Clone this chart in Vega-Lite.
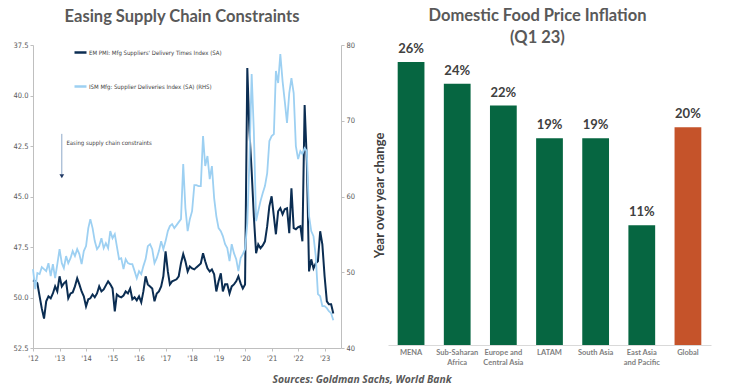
{
  "$schema": "https://vega.github.io/schema/vega-lite/v6.json",
  "background": "white",
  "padding": {"left": 12, "top": 8, "right": 10, "bottom": 0},
  "config": {"view": {"stroke": null}, "font": "Lato"},
  "title": {"text": "Sources: Goldman Sachs, World Bank", "orient": "bottom", "anchor": "middle", "fontSize": 10.3, "fontStyle": "italic", "fontWeight": "bold", "color": "#595959", "offset": 9, "font": "Open Sans"},
  "spacing": 18,
  "resolve": {"scale": {"color": "independent"}, "legend": {"color": "independent"}},
  "hconcat": [
    {
      "width": 308,
      "height": 303,
      "title": {"text": "Easing Supply Chain Constraints", "fontSize": 16.5, "fontWeight": "bold", "color": "#595959", "font": "Lato", "offset": 16, "dx": -5},
      "encoding": {
        "x": {
          "field": "d", "type": "temporal",
          "scale": {"type": "utc", "domain": [{"year": 2012, "month": 1, "date": 1, "utc": true}, {"year": 2023, "month": 8, "date": 15, "utc": true}], "nice": false},
          "axis": {"title": null, "labelExpr": "\"'\" + utcFormat(datum.value, '%y')", "tickCount": {"interval": "year", "step": 1}, "grid": false, "labelFontSize": 7.5, "labelFont": "DejaVu Sans Condensed", "labelColor": "#595959", "tickSize": 3, "tickColor": "#BFBFBF", "domainColor": "#BFBFBF", "labelPadding": 3, "labelFlush": false}
        }
      },
      "layer": [
        {
          "data": {"name": "pmi"},
          "layer": [
            {
              "mark": {"type": "line", "strokeWidth": 2},
              "encoding": {
                "y": {"field": "EM", "type": "quantitative", "scale": {"domain": [37.5, 52.5], "reverse": true, "zero": false, "nice": false},
                  "axis": {"title": null, "values": [37.5, 40, 42.5, 45, 47.5, 50, 52.5], "format": ".1f", "grid": false, "labelFontSize": 7.5, "labelFont": "DejaVu Sans Condensed", "labelColor": "#595959", "tickSize": 3, "tickColor": "#BFBFBF", "domainColor": "#BFBFBF", "labelPadding": 2}},
                "color": {"datum": "EM", "type": "nominal",
                  "scale": {"domain": ["EM", "ISM"], "range": ["#0B2D52", "#9DD0F2"]},
                  "legend": {"title": null, "orient": "none", "legendX": 40, "legendY": 0, "direction": "vertical", "symbolType": "stroke", "symbolSize": 144, "symbolStrokeWidth": 2.5, "rowPadding": 21, "labelFontSize": 6, "labelFont": "DejaVu Sans Condensed", "labelColor": "#404040", "labelOffset": 1, "labelLimit": 400,
                    "labelExpr": "datum.label == 'EM' ? \"EM PMI: Mfg Suppliers' Delivery Times Index (SA)\" : 'ISM Mfg: Supplier Deliveries Index (SA) (RHS)'"}}
              }
            },
            {
              "data": {"values": [{"d": "2013-02-01", "EM": 41.9, "EM2": 43.9}]},
              "mark": {"type": "rule", "color": "#8EA9C8", "strokeWidth": 1},
              "encoding": {"y": {"field": "EM", "type": "quantitative"}, "y2": {"field": "EM2"}}
            },
            {
              "data": {"values": [{"d": "2013-02-01", "EM": 44.0}]},
              "mark": {"type": "point", "shape": "triangle-down", "filled": true, "size": 22, "color": "#1F3864", "opacity": 1},
              "encoding": {"y": {"field": "EM", "type": "quantitative"}}
            },
            {
              "data": {"values": [{"d": "2013-04-05", "EM": 42.35, "t": "Easing supply chain constraints"}]},
              "mark": {"type": "text", "align": "left", "baseline": "middle", "fontSize": 6, "font": "DejaVu Sans Condensed", "color": "#404040"},
              "encoding": {"y": {"field": "EM", "type": "quantitative"}, "text": {"field": "t"}}
            }
          ]
        },
        {
          "data": {"name": "pmi"},
          "mark": {"type": "line", "strokeWidth": 1.8},
          "encoding": {
            "y": {"field": "ISM", "type": "quantitative", "scale": {"domain": [40, 80], "zero": false, "nice": false},
              "axis": {"orient": "right", "title": null, "values": [40, 50, 60, 70, 80], "grid": false, "labelFontSize": 7.5, "labelFont": "DejaVu Sans Condensed", "labelColor": "#595959", "tickSize": 3, "tickColor": "#BFBFBF", "domainColor": "#BFBFBF", "labelPadding": 2}},
            "color": {"datum": "ISM", "type": "nominal"}
          }
        }
      ],
      "resolve": {"scale": {"y": "independent"}}
    },
    {
      "width": 323,
      "height": 300,
      "title": {"text": ["Domestic Food Price Inflation", "(Q1 23)"], "fontSize": 16.5, "fontWeight": "bold", "color": "#595959", "font": "Lato", "lineHeight": 22, "offset": -4, "dx": -12},
      "data": {"values": [
        {"r": "MENA", "v": 26, "t": "26%", "k": "Region"},
        {"r": "Sub-Saharan Africa", "v": 24, "t": "24%", "k": "Region"},
        {"r": "Europe and Central Asia", "v": 22, "t": "22%", "k": "Region"},
        {"r": "LATAM", "v": 19, "t": "19%", "k": "Region"},
        {"r": "South Asia", "v": 19, "t": "19%", "k": "Region"},
        {"r": "East Asia and Pacific", "v": 11, "t": "11%", "k": "Region"},
        {"r": "Global", "v": 20, "t": "20%", "k": "Global"}
      ]},
      "encoding": {
        "x": {"field": "r", "type": "nominal", "sort": null, "scale": {"paddingInner": 0.42, "paddingOuter": 0.21},
          "axis": {"title": null, "labelAngle": 0, "ticks": false, "domainColor": "#D9D9D9", "labelFontSize": 7.5, "labelFontWeight": "bold", "labelColor": "#7F7F7F", "labelPadding": 7, "labelLineHeight": 10, "labelBaseline": "middle",
            "labelExpr": "datum.label == 'Sub-Saharan Africa' ? ['Sub-Saharan', 'Africa'] : datum.label == 'Europe and Central Asia' ? ['Europe and', 'Central Asia'] : datum.label == 'East Asia and Pacific' ? ['East Asia', 'and Pacific'] : datum.label"}},
        "y": {"field": "v", "type": "quantitative", "scale": {"domain": [0, 27.56], "nice": false},
          "axis": {"title": "Year over year change", "labels": false, "ticks": false, "domain": false, "grid": false, "titleFontSize": 13, "titleFontWeight": "bold", "titleColor": "#404040", "titlePadding": 2, "titleFont": "Lato"}}
      },
      "layer": [
        {"mark": {"type": "bar"},
          "encoding": {"color": {"field": "k", "type": "nominal", "scale": {"domain": ["Region", "Global"], "range": ["#066641", "#C5532A"]}, "legend": null}}},
        {"mark": {"type": "text", "baseline": "bottom", "dy": -6, "fontSize": 13, "fontWeight": "bold", "color": "#404040", "font": "Lato"},
          "encoding": {"text": {"field": "t"}}}
      ]
    }
  ],
  "datasets": {
    "pmi": [
      {"d": "2012-01-01", "EM": 49.15, "ISM": 50.41}, {"d": "2012-02-01", "EM": 49.2, "ISM": 47.77}, {"d": "2012-03-01", "EM": 49.3, "ISM": 49.88}, {"d": "2012-04-01", "EM": 49.94, "ISM": 49.75}, {"d": "2012-05-01", "EM": 50.54, "ISM": 50.67}, {"d": "2012-06-01", "EM": 51.04, "ISM": 50.41}, {"d": "2012-07-01", "EM": 50.19, "ISM": 50.15}, {"d": "2012-08-01", "EM": 49.94, "ISM": 51.2}, {"d": "2012-09-01", "EM": 50.04, "ISM": 49.48}, {"d": "2012-10-01", "EM": 49.8, "ISM": 51.07}, {"d": "2012-11-01", "EM": 49.45, "ISM": 49.22}, {"d": "2012-12-01", "EM": 49.7, "ISM": 51.07},
      {"d": "2013-01-01", "EM": 48.95, "ISM": 53.05}, {"d": "2013-02-01", "EM": 49.45, "ISM": 51.2}, {"d": "2013-03-01", "EM": 49.3, "ISM": 50.54}, {"d": "2013-04-01", "EM": 49.2, "ISM": 52.13}, {"d": "2013-05-01", "EM": 50.04, "ISM": 51.2}, {"d": "2013-06-01", "EM": 49.8, "ISM": 51.86}, {"d": "2013-07-01", "EM": 49.75, "ISM": 52.79}, {"d": "2013-08-01", "EM": 49.45, "ISM": 52.13}, {"d": "2013-09-01", "EM": 49.05, "ISM": 53.05}, {"d": "2013-10-01", "EM": 49.35, "ISM": 52.39}, {"d": "2013-11-01", "EM": 49.7, "ISM": 51.07}, {"d": "2013-12-01", "EM": 49.94, "ISM": 52.79},
      {"d": "2014-01-01", "EM": 50.44, "ISM": 53.45}, {"d": "2014-02-01", "EM": 50.09, "ISM": 55.83}, {"d": "2014-03-01", "EM": 50.04, "ISM": 57.01}, {"d": "2014-04-01", "EM": 49.85, "ISM": 55.83}, {"d": "2014-05-01", "EM": 49.99, "ISM": 54.11}, {"d": "2014-06-01", "EM": 49.8, "ISM": 53.05}, {"d": "2014-07-01", "EM": 49.45, "ISM": 53.45}, {"d": "2014-08-01", "EM": 49.7, "ISM": 54.5}, {"d": "2014-09-01", "EM": 49.6, "ISM": 53.18}, {"d": "2014-10-01", "EM": 49.4, "ISM": 53.84}, {"d": "2014-11-01", "EM": 49.2, "ISM": 53.18}, {"d": "2014-12-01", "EM": 49.35, "ISM": 55.43},
      {"d": "2015-01-01", "EM": 49.55, "ISM": 54.5}, {"d": "2015-02-01", "EM": 50.69, "ISM": 55.03}, {"d": "2015-03-01", "EM": 49.85, "ISM": 53.45}, {"d": "2015-04-01", "EM": 49.94, "ISM": 51.73}, {"d": "2015-05-01", "EM": 49.99, "ISM": 51.86}, {"d": "2015-06-01", "EM": 49.9, "ISM": 50.41}, {"d": "2015-07-01", "EM": 49.7, "ISM": 51.73}, {"d": "2015-08-01", "EM": 49.8, "ISM": 51.2}, {"d": "2015-09-01", "EM": 49.55, "ISM": 51.07}, {"d": "2015-10-01", "EM": 50.09, "ISM": 51.07}, {"d": "2015-11-01", "EM": 49.99, "ISM": 50.15}, {"d": "2015-12-01", "EM": 50.14, "ISM": 49.22},
      {"d": "2016-01-01", "EM": 49.94, "ISM": 50.15}, {"d": "2016-02-01", "EM": 50.24, "ISM": 49.75}, {"d": "2016-03-01", "EM": 49.7, "ISM": 50.81}, {"d": "2016-04-01", "EM": 48.95, "ISM": 51.73}, {"d": "2016-05-01", "EM": 49.35, "ISM": 53.45}, {"d": "2016-06-01", "EM": 49.45, "ISM": 53.71}, {"d": "2016-07-01", "EM": 49.55, "ISM": 53.05}, {"d": "2016-08-01", "EM": 50.19, "ISM": 51.2}, {"d": "2016-09-01", "EM": 49.8, "ISM": 51.86}, {"d": "2016-10-01", "EM": 49.7, "ISM": 52.79}, {"d": "2016-11-01", "EM": 49.45, "ISM": 54.11}, {"d": "2016-12-01", "EM": 48.95, "ISM": 53.05},
      {"d": "2017-01-01", "EM": 47.71, "ISM": 54.11}, {"d": "2017-02-01", "EM": 48.71, "ISM": 55.43}, {"d": "2017-03-01", "EM": 49.35, "ISM": 56.09}, {"d": "2017-04-01", "EM": 49.2, "ISM": 56.35}, {"d": "2017-05-01", "EM": 49.15, "ISM": 55.83}, {"d": "2017-06-01", "EM": 49.1, "ISM": 56.22}, {"d": "2017-07-01", "EM": 48.95, "ISM": 56.62}, {"d": "2017-08-01", "EM": 48.3, "ISM": 57.01}, {"d": "2017-09-01", "EM": 47.85, "ISM": 64.28}, {"d": "2017-10-01", "EM": 48.21, "ISM": 58.47}, {"d": "2017-11-01", "EM": 48.71, "ISM": 55.43}, {"d": "2017-12-01", "EM": 48.46, "ISM": 57.01},
      {"d": "2018-01-01", "EM": 48.56, "ISM": 58.07}, {"d": "2018-02-01", "EM": 48.61, "ISM": 61.51}, {"d": "2018-03-01", "EM": 48.51, "ISM": 61.51}, {"d": "2018-04-01", "EM": 48.41, "ISM": 61.37}, {"d": "2018-05-01", "EM": 48.31, "ISM": 61.37}, {"d": "2018-06-01", "EM": 47.81, "ISM": 67.98}, {"d": "2018-07-01", "EM": 48.21, "ISM": 64.02}, {"d": "2018-08-01", "EM": 48.56, "ISM": 65.34}, {"d": "2018-09-01", "EM": 48.71, "ISM": 62.3}, {"d": "2018-10-01", "EM": 48.61, "ISM": 64.02}, {"d": "2018-11-01", "EM": 48.85, "ISM": 59.79}, {"d": "2018-12-01", "EM": 49.7, "ISM": 57.41},
      {"d": "2019-01-01", "EM": 49.2, "ISM": 55.83}, {"d": "2019-02-01", "EM": 48.8, "ISM": 55.43}, {"d": "2019-03-01", "EM": 49.7, "ISM": 54.77}, {"d": "2019-04-01", "EM": 49.35, "ISM": 53.71}, {"d": "2019-05-01", "EM": 49.35, "ISM": 53.18}, {"d": "2019-06-01", "EM": 49.8, "ISM": 51.47}, {"d": "2019-07-01", "EM": 49.45, "ISM": 53.71}, {"d": "2019-08-01", "EM": 49.35, "ISM": 52.52}, {"d": "2019-09-01", "EM": 49.2, "ISM": 51.73}, {"d": "2019-10-01", "EM": 48.95, "ISM": 50.15}, {"d": "2019-11-01", "EM": 49.3, "ISM": 51.86}, {"d": "2019-12-01", "EM": 49.55, "ISM": 52.39},
      {"d": "2020-01-01", "EM": 49.35, "ISM": 53.05}, {"d": "2020-02-01", "EM": 38.64, "ISM": 56.49}, {"d": "2020-03-01", "EM": 41.76, "ISM": 64.68}, {"d": "2020-04-01", "EM": 43.75, "ISM": 76.17}, {"d": "2020-05-01", "EM": 45.98, "ISM": 68.64}, {"d": "2020-06-01", "EM": 47.81, "ISM": 56.75}, {"d": "2020-07-01", "EM": 47.37, "ISM": 58.07}, {"d": "2020-08-01", "EM": 47.56, "ISM": 59.39}, {"d": "2020-09-01", "EM": 47.42, "ISM": 60.45}, {"d": "2020-10-01", "EM": 47.22, "ISM": 61.37}, {"d": "2020-11-01", "EM": 46.47, "ISM": 63.09}, {"d": "2020-12-01", "EM": 45.48, "ISM": 67.32},
      {"d": "2021-01-01", "EM": 44.99, "ISM": 67.98}, {"d": "2021-02-01", "EM": 45.98, "ISM": 68.24}, {"d": "2021-03-01", "EM": 46.87, "ISM": 76.57}, {"d": "2021-04-01", "EM": 45.73, "ISM": 74.98}, {"d": "2021-05-01", "EM": 45.58, "ISM": 78.81}, {"d": "2021-06-01", "EM": 45.88, "ISM": 75.24}, {"d": "2021-07-01", "EM": 45.63, "ISM": 72.6}, {"d": "2021-08-01", "EM": 45.58, "ISM": 69.7}, {"d": "2021-09-01", "EM": 46.82, "ISM": 73.66}, {"d": "2021-10-01", "EM": 44.59, "ISM": 75.64}, {"d": "2021-11-01", "EM": 46.57, "ISM": 73.66}, {"d": "2021-12-01", "EM": 46.62, "ISM": 66.66},
      {"d": "2022-01-01", "EM": 46.52, "ISM": 64.94}, {"d": "2022-02-01", "EM": 46.47, "ISM": 66.0}, {"d": "2022-03-01", "EM": 47.22, "ISM": 65.6}, {"d": "2022-04-01", "EM": 40.47, "ISM": 66.39}, {"d": "2022-05-01", "EM": 43.25, "ISM": 66.0}, {"d": "2022-06-01", "EM": 48.71, "ISM": 57.41}, {"d": "2022-07-01", "EM": 48.11, "ISM": 55.43}, {"d": "2022-08-01", "EM": 48.56, "ISM": 54.77}, {"d": "2022-09-01", "EM": 48.31, "ISM": 52.13}, {"d": "2022-10-01", "EM": 48.21, "ISM": 47.11}, {"d": "2022-11-01", "EM": 46.72, "ISM": 46.84}, {"d": "2022-12-01", "EM": 47.37, "ISM": 45.52},
      {"d": "2023-01-01", "EM": 48.95, "ISM": 45.52}, {"d": "2023-02-01", "EM": 50.19, "ISM": 45.26}, {"d": "2023-03-01", "EM": 50.34, "ISM": 44.86}, {"d": "2023-04-01", "EM": 50.34, "ISM": 44.6}, {"d": "2023-05-01", "EM": 50.79, "ISM": 43.67}
    ]
  }
}
